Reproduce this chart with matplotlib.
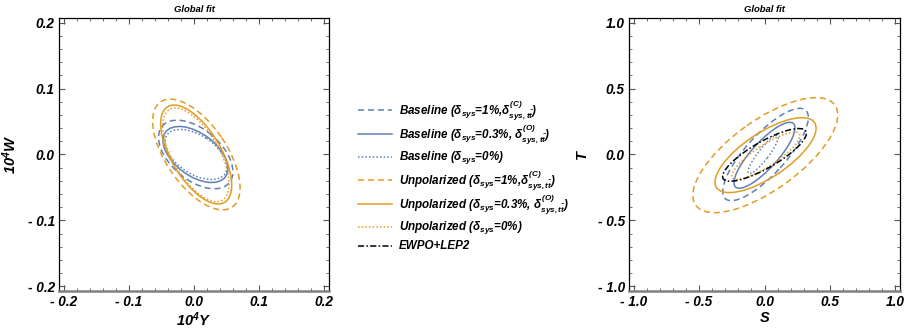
import numpy as np
import matplotlib
matplotlib.use("Agg")
import matplotlib.pyplot as plt
from matplotlib.patches import Ellipse
from matplotlib.lines import Line2D
from matplotlib.ticker import MultipleLocator, FixedLocator, FixedFormatter

plt.rcParams['font.family'] = ['Liberation Sans', 'DejaVu Sans']
plt.rcParams['font.weight'] = 'bold'
plt.rcParams['font.style'] = 'italic'
plt.rcParams['mathtext.fontset'] = 'custom'
plt.rcParams['mathtext.rm'] = 'Liberation Sans:bold:italic'
plt.rcParams['mathtext.it'] = 'Liberation Sans:bold:italic'
plt.rcParams['mathtext.bf'] = 'Liberation Sans:bold:italic'

BLUE = '#5E81B5'
ORANGE = '#E19C24'
BLACK = '#000000'

# Contour descriptions: centre, half-extent along x and y, correlation
labels = [
    r'Baseline ($\delta_{sys}$=1%,$\delta^{(C)}_{sys,t\bar{t}}$)',
    r'Baseline ($\delta_{sys}$=0.3%, $\delta^{(O)}_{sys,t\bar{t}}$)',
    r'Baseline ($\delta_{sys}$=0%)',
    r'Unpolarized ($\delta_{sys}$=1%,$\delta^{(C)}_{sys,t\bar{t}}$)',
    r'Unpolarized ($\delta_{sys}$=0.3%, $\delta^{(O)}_{sys,t\bar{t}}$)',
    r'Unpolarized ($\delta_{sys}$=0%)',
    r'EWPO+LEP2',
]
colors = [BLUE, BLUE, BLUE, ORANGE, ORANGE, ORANGE, BLACK]
styles = [(0, (4, 2.5)), '-', (0, (1, 1.4)),
          (0, (4, 2.5)), '-', (0, (1, 1.4)),
          (0, (4, 1.5, 1, 1.5))]

# Y-W plane (units of 10^-4), six scenarios
yw_cx = [0.0027, 0.0023, 0.0030, 0.0037, 0.0034, 0.0030]
yw_cy = [0.0000, 0.0000, 0.0000, 0.0000, 0.0000, -0.0005]
yw_ax = [0.0570, 0.0498, 0.0476, 0.0670, 0.0545, 0.0508]
yw_ay = [0.0520, 0.0425, 0.0380, 0.0840, 0.0750, 0.0710]
yw_rho = [-0.50, -0.50, -0.50, -0.60, -0.62, -0.62]

# S-T plane, six scenarios plus EWPO+LEP2
st_cx = [0.008, 0.000, -0.010, 0.006, 0.008, 0.010, 0.000]
st_cy = [0.000, -0.006, 0.000, -0.005, -0.005, -0.010, -0.003]
st_ax = [0.327, 0.233, 0.115, 0.553, 0.386, 0.260, 0.320]
st_ay = [0.350, 0.250, 0.145, 0.436, 0.284, 0.180, 0.200]
st_rho = [0.80, 0.83, 0.90, 0.70, 0.72, 0.85, 0.82]


def contour(ax, cx, cy, sx, sy, rho, color, ls):
    cov = np.array([[sx * sx, rho * sx * sy], [rho * sx * sy, sy * sy]])
    vals, vecs = np.linalg.eigh(cov)
    ang = np.degrees(np.arctan2(vecs[1, 1], vecs[0, 1]))
    e = Ellipse((cx, cy), 2 * np.sqrt(vals[1]), 2 * np.sqrt(vals[0]), angle=ang,
                fill=False, edgecolor=color, linestyle=ls, linewidth=1.1)
    ax.add_patch(e)


def style_axes(ax, lim, major, minor, ticklabels, xlabel, ylabel):
    ax.set_xlim(-lim, lim)
    ax.set_ylim(-lim, lim)
    ticks = [-2 * major, -major, 0, major, 2 * major]
    for axis in (ax.xaxis, ax.yaxis):
        axis.set_major_locator(FixedLocator(ticks))
        axis.set_major_formatter(FixedFormatter(ticklabels))
        axis.set_minor_locator(MultipleLocator(minor))
    ax.tick_params(which='both', direction='in', top=True, right=True,
                   labelsize=9.8, color='#555555', pad=3)
    ax.tick_params(which='major', length=4, width=0.8)
    ax.tick_params(which='minor', length=2, width=0.6)
    for lab in ax.get_xticklabels() + ax.get_yticklabels():
        lab.set_fontweight('bold')
        lab.set_fontstyle('italic')
    for side in ('left', 'top', 'right'):
        ax.spines[side].set_color('black')
        ax.spines[side].set_linewidth(0.9)
    ax.spines['bottom'].set_color('#808080')
    ax.spines['bottom'].set_linewidth(1.8)
    ax.set_title('Global fit', fontsize=6.8, fontweight='bold', style='italic', pad=4)
    ax.set_xlabel(xlabel, fontsize=10.5, fontweight='bold', style='italic', labelpad=1)
    ax.set_ylabel(ylabel, fontsize=10.5, fontweight='bold', style='italic', labelpad=6)


fig = plt.figure(figsize=(9.07, 3.29), dpi=100)
ax1 = fig.add_axes([0.0650, 0.1155, 0.2977, 0.8298])
ax2 = fig.add_axes([0.6935, 0.1155, 0.2988, 0.8298])

for i in range(6):
    contour(ax1, yw_cx[i], yw_cy[i], yw_ax[i], yw_ay[i], yw_rho[i], colors[i], styles[i])
for i in range(7):
    contour(ax2, st_cx[i], st_cy[i], st_ax[i], st_ay[i], st_rho[i], colors[i], styles[i])

style_axes(ax1, 0.207, 0.1, 0.02, ['- 0.2', '- 0.1', '0.0', '0.1', '0.2'],
           r'10$^{4}$Y', r'10$^{4}$W')
style_axes(ax2, 1.035, 0.5, 0.1, ['- 1.0', '- 0.5', '0.0', '0.5', '1.0'],
           'S', 'T')

# Legend between the two panels
W, H = 907.0, 329.0
rows_y = [110, 134, 157, 180, 204, 227, 246]
for i, y in enumerate(rows_y):
    fy = 1 - y / H
    fig.add_artist(Line2D([358 / W, 392 / W], [fy, fy], transform=fig.transFigure,
                          color=colors[i], linestyle=styles[i], linewidth=1.1))
    fig.text(399 / W, fy, labels[i], fontsize=8.4, fontweight='bold', style='italic',
             va='center', ha='left')

fig.savefig('out.png', dpi=100)
